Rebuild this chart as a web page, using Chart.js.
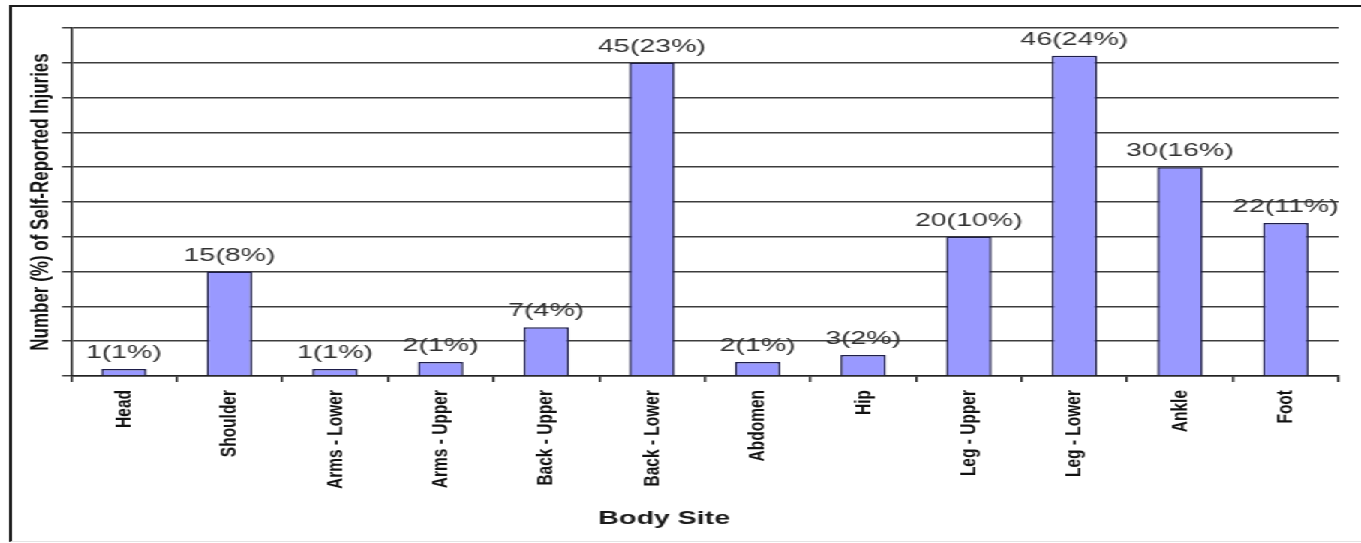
<!DOCTYPE html>
<html lang="en">
<head>
    <meta charset="UTF-8">
    <title>Self-Reported Injuries by Body Site</title>
    <script src="https://cdn.jsdelivr.net/npm/chart.js"></script>
    <style>
        html, body {
            margin: 0;
            padding: 0;
            background: #ffffff;
            overflow: hidden;
        }

        /* the original figure is a horizontally stretched Excel chart */
        .stretch {
            position: absolute;
            left: 0;
            top: 0;
            width: 907px;
            height: 543px;
            transform: scaleX(1.5006);
            transform-origin: 0 0;
        }

        .frame {
            position: absolute;
            left: 6px;
            top: 5px;
            right: -20px;
            bottom: 1px;
            border-left: 2px solid #1c1c1c;
            border-top: 2px solid #1c1c1c;
            border-bottom: 1px solid #e4e4e4;
        }

        .chart-box {
            position: absolute;
            left: 0;
            top: 0;
            width: 907px;
            height: 543px;
        }
    </style>
</head>
<body>
    <div class="stretch">
        <div class="frame"></div>
        <div class="chart-box">
            <canvas id="injury-chart"></canvas>
        </div>
    </div>
    <script>
        const bodySites = ['Head', 'Shoulder', 'Arms - Lower', 'Arms - Upper', 'Back - Upper', 'Back - Lower',
                           'Abdomen', 'Hip', 'Leg - Upper', 'Leg - Lower', 'Ankle', 'Foot'];
        const injuryCounts = [1, 15, 1, 2, 7, 45, 2, 3, 20, 46, 30, 22];
        const injuryPercents = [1, 8, 1, 1, 4, 23, 1, 2, 10, 24, 16, 11];
        const yMin = 0;
        const yMax = 50;
        const yStep = 5;

        const plainFont = '"Liberation Sans", Arial, sans-serif';

        // "15(8%)" style labels above each bar
        const barLabels = {
            id: 'barLabels',
            afterDatasetsDraw(chart) {
                const ctx = chart.ctx;
                const meta = chart.getDatasetMeta(0);
                ctx.save();
                ctx.font = '19px ' + plainFont;
                ctx.fillStyle = '#303030';
                ctx.textAlign = 'center';
                ctx.textBaseline = 'alphabetic';
                meta.data.forEach((bar, i) => {
                    ctx.fillText(injuryCounts[i] + '(' + injuryPercents[i] + '%)', bar.x, bar.y - 11);
                });
                ctx.restore();
            }
        };

        // x axis caption sits a little left of centre in the original
        const xCaption = {
            id: 'xCaption',
            afterDraw(chart) {
                const ctx = chart.ctx;
                const xs = chart.scales.x;
                ctx.save();
                ctx.font = 'bold 19px ' + plainFont;
                ctx.fillStyle = '#1a1a1a';
                ctx.textAlign = 'center';
                ctx.textBaseline = 'middle';
                ctx.fillText('Body Site', (xs.left + xs.right) / 2 - 27, 519);
                ctx.restore();
            }
        };

        const ctx = document.getElementById('injury-chart').getContext('2d');
        new Chart(ctx, {
            type: 'bar',
            data: {
                labels: bodySites,
                datasets: [{
                    label: 'Self-Reported Injuries',
                    data: injuryCounts,
                    backgroundColor: '#9999ff',
                    borderColor: '#1e1e4a',
                    borderWidth: 1.5,
                    borderSkipped: 'bottom',
                    barPercentage: 0.43,
                    categoryPercentage: 1.0
                }]
            },
            options: {
                responsive: true,
                maintainAspectRatio: false,
                animation: false,
                layout: {
                    padding: { left: 10, right: 15, top: 28, bottom: 0 }
                },
                plugins: {
                    legend: { display: false },
                    tooltip: { enabled: false }
                },
                scales: {
                    x: {
                        offset: true,
                        grid: {
                            offset: true,
                            drawOnChartArea: false,
                            drawTicks: true,
                            tickLength: 6,
                            color: '#222222',
                            lineWidth: 1.5
                        },
                        border: { display: true, color: '#222222', width: 1.5 },
                        ticks: {
                            minRotation: 90,
                            maxRotation: 90,
                            autoSkip: false,
                            padding: 8,
                            color: '#111111',
                            font: { family: plainFont, size: 15.5, weight: 'bold' }
                        },
                        afterFit(scale) {
                            scale.height = 167;
                        }
                    },
                    y: {
                        min: yMin,
                        max: yMax,
                        ticks: {
                            display: false,
                            stepSize: yStep
                        },
                        grid: {
                            color: '#3c3c3c',
                            lineWidth: 1.5,
                            drawTicks: true,
                            tickLength: 6
                        },
                        border: { display: true, color: '#222222', width: 1.5 },
                        title: {
                            display: true,
                            text: 'Number (%) of Self-Reported Injuries',
                            color: '#111111',
                            font: { family: plainFont, size: 17, weight: 'bold' },
                            padding: { top: 7, bottom: 0 }
                        },
                        afterFit(scale) {
                            scale.width = 37.3;
                        }
                    }
                }
            },
            plugins: [barLabels, xCaption]
        });
    </script>
</body>
</html>
